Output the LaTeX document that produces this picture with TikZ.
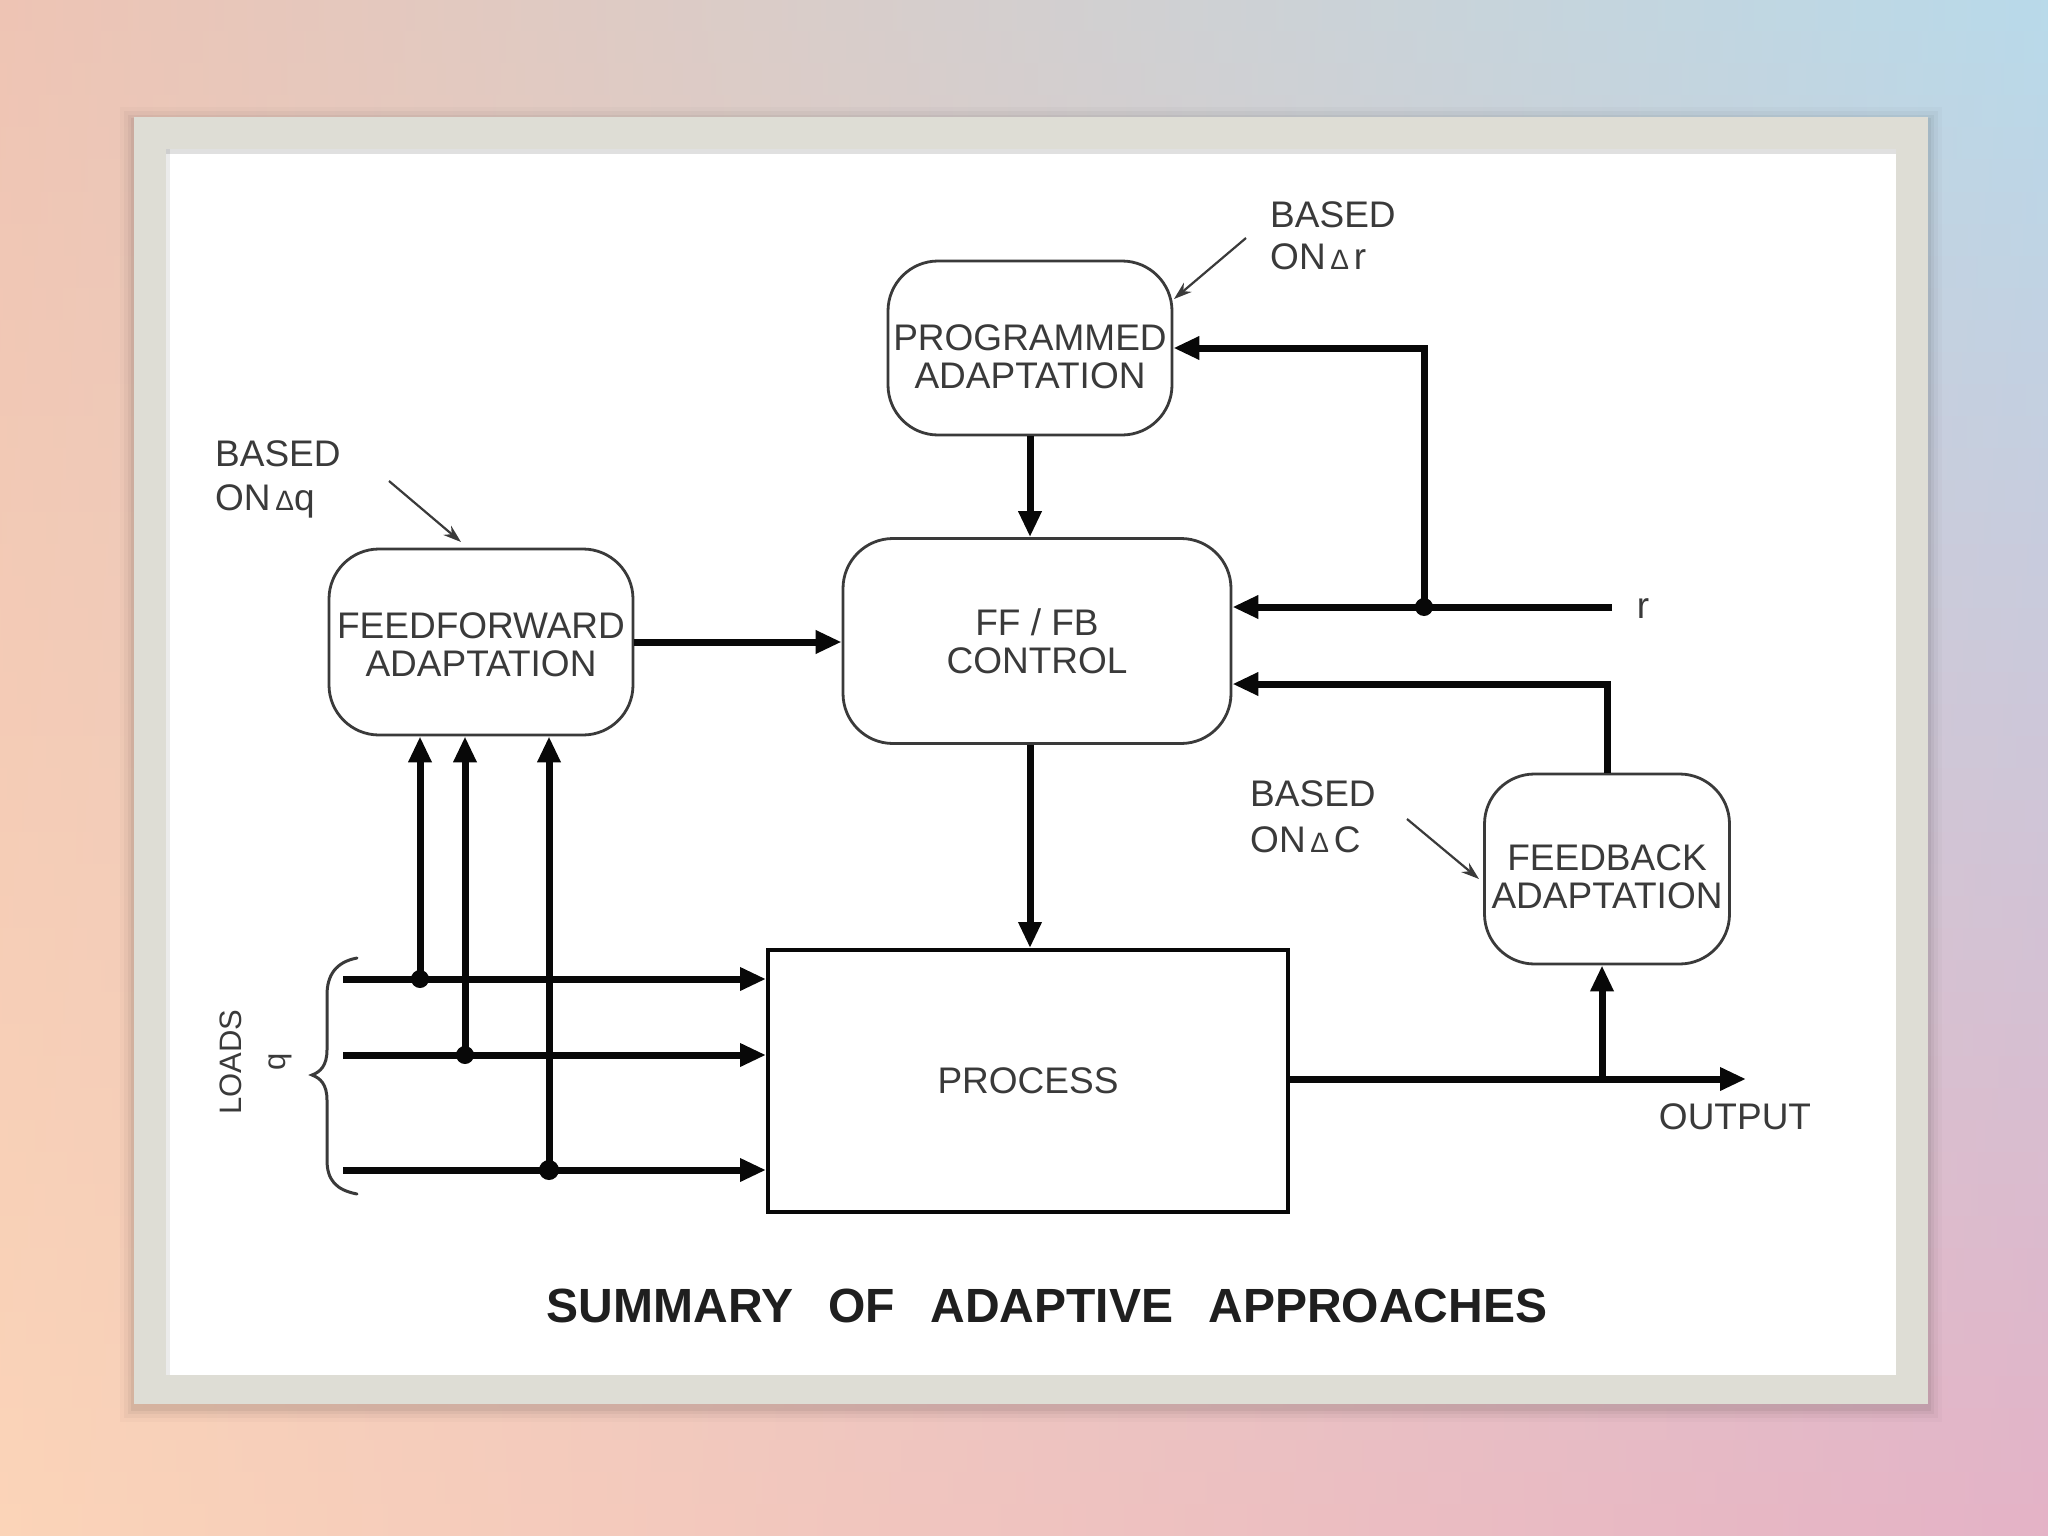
\documentclass[tikz,border=0pt]{standalone}
\usepackage{fontspec}
\setmainfont{Liberation Sans}
\usetikzlibrary{arrows.meta,calc}
\definecolor{bgTL}{HTML}{EEC4B4}
\definecolor{bgTM}{HTML}{D0C0DA}
\definecolor{bgTR}{HTML}{B8DAEA}
\definecolor{bgBL}{HTML}{FBD4B8}
\definecolor{bgBM}{HTML}{F0C0B8}
\definecolor{bgBR}{HTML}{E4B2C6}
\definecolor{frameC}{HTML}{DEDDD5}
\definecolor{ink}{HTML}{3A3A3A}
\definecolor{wire}{HTML}{080808}
\newcommand\boxfont{\fontsize{37}{38}\selectfont}
\newcommand\titlefont{\fontsize{48}{52}\selectfont\bfseries}
\begin{document}
\begin{tikzpicture}[x=1pt,y=-1pt,
  blk/.style={draw=ink, line width=2.8pt, rounded corners=50pt, inner sep=0pt, fill=white},
  btxt/.style={inner sep=0pt, align=center, text=ink, font=\boxfont},
  lab/.style={inner sep=0pt, align=left, text=ink},
  wireline/.style={line width=7pt, draw=wire},
  arr/.style={wireline, -{Triangle[length=26pt,width=22pt]}},
  thinarr/.style={line width=2.2pt, draw=ink, -{Stealth[length=18pt,width=12pt]}},
  dot/.style={fill=wire}
]
% background
\useasboundingbox (0,0) rectangle (2048,1536);
\foreach \i in {0,...,47}{
  \pgfmathsetmacro{\p}{(\i+0.5)/48*100}
  \colorlet{cl}{bgBL!\p!bgTL}
  \colorlet{cm}{bgBM!\p!bgTM}
  \colorlet{cr}{bgBR!\p!bgTR}
  \shade[left color=cl, middle color=cm, right color=cr] (0,{\i*32}) rectangle (2048,{\i*32+33});
}
% frame shadow
\foreach \d/\o in {14/0.02,10/0.03,6/0.04,3/0.05}{
  \fill[black, opacity=\o] ({134-\d},{117-\d+4}) rectangle ({1928+\d},{1404+\d+4});
}
% frame
\fill[frameC] (134,117) rectangle (1928,1404);
\fill[white] (166,149) rectangle (1896,1375);
\fill[black, opacity=0.12] (166,149) rectangle (1896,154);
\fill[black, opacity=0.08] (166,149) rectangle (170,1375);

% blocks
\node[blk, minimum width=284pt, minimum height=174pt] (prog) at (1030,348) {};
\node[blk, minimum width=388pt, minimum height=205pt] (fffb) at (1037,641) {};
\node[blk, minimum width=304pt, minimum height=186pt] (ff) at (481,642) {};
\node[blk, minimum width=245pt, minimum height=190pt] (fb) at (1607,869) {};
\node[draw=wire, line width=4pt, minimum width=520pt, minimum height=262pt, inner sep=0pt,
      text=ink, font=\boxfont] (proc) at (1028,1081) {PROCESS};
\node[btxt] (progt) at (1030,357) {PROGRAMMED\\ADAPTATION};
\node[btxt] (fffbt) at (1037,641) {FF / FB\\CONTROL};
\node[btxt] (fft) at (481,645) {FEEDFORWARD\\ADAPTATION};
\node[btxt] (fbt) at (1607,877) {FEEDBACK\\ADAPTATION};

% labels
\node[lab, anchor=west, font=\fontsize{37}{42}\selectfont] (lr) at (1270,236) {BASED\\ON{\fontsize{28}{28}\selectfont\,Δ\,}r};
\node[lab, anchor=west, font=\fontsize{37}{44}\selectfont] (lq) at (215,479) {BASED\\ON{\fontsize{28}{28}\selectfont\,Δ}q};
\node[lab, anchor=west, font=\fontsize{37}{46}\selectfont] (lc) at (1250,817) {BASED\\ON{\fontsize{28}{28}\selectfont\,Δ\,}C};
\node[lab, rotate=90, align=center, font=\fontsize{31}{44}\selectfont] (loads) at (256,1062) {LOADS\\q};
\node[lab, font=\boxfont] (rlab) at (1643,609) {r};
\node[lab, font=\boxfont] (outlab) at (1735,1117) {OUTPUT};
\node[inner sep=0pt, text=black!88, font=\titlefont] (title) at (1047,1306)
  {SUMMARY\hspace{22pt} OF\hspace{22pt} ADAPTIVE\hspace{22pt} APPROACHES};

% coordinates
\coordinate (rin) at (1612,607);
\coordinate (rj) at (1424,607);
\coordinate (l1) at (343,979);
\coordinate (l2) at (343,1055);
\coordinate (l3) at (343,1170);
\coordinate (j1) at (420,979);
\coordinate (j2) at (465,1055);
\coordinate (j3) at (549,1170);
\coordinate (out) at (1746,1079);
\coordinate (ob) at (1602,1079);
\coordinate (tr) at (1246,238);
\coordinate (hr) at (1174,299);
\coordinate (tq) at (389,481);
\coordinate (hq) at (461,542);
\coordinate (tc) at (1407,819);
\coordinate (hc) at (1479,879);

% annotation arrows
\draw[thinarr] (tr) -- (hr);
\draw[thinarr] (tq) -- (hq);
\draw[thinarr] (tc) -- (hc);

% main connectors
\draw[arr] (prog.south) -- (prog.south |- fffb.north);
\draw[arr] (ff.east) -- (ff.east -| fffb.west);
\draw[arr] (rin) -- (rin -| fffb.east);
\draw[arr] (rj) |- (prog.east);
\draw[arr] (fb.north) |- ($(fffb.east)+(0,43)$);
\draw[arr] (prog.south |- fffb.south) -- (prog.south |- proc.north);
\draw[arr] (proc.east |- out) -- (out);
\draw[arr] (ob) -- (ob |- fb.south);
\fill[dot] (rj) circle (9pt);

% loads
\draw[arr] (l1) -- (l1 -| proc.west);
\draw[arr] (l2) -- (l2 -| proc.west);
\draw[arr] (l3) -- (l3 -| proc.west);
\draw[arr] (j1) -- (j1 |- ff.south);
\draw[arr] (j2) -- (j2 |- ff.south);
\draw[arr] (j3) -- (j3 |- ff.south);
\fill[dot] (j1) circle (9pt);
\fill[dot] (j2) circle (9pt);
\fill[dot] (j3) circle (10pt);

% brace
\draw[ink, line width=3pt, line cap=round]
  (357,958) .. controls (336,962) and (327,975) .. (327,995)
  -- (327,1050) .. controls (327,1066) and (320,1072) .. (312,1075)
  .. controls (320,1078) and (327,1084) .. (327,1100)
  -- (327,1160) .. controls (327,1180) and (336,1190) .. (357,1194);
\end{tikzpicture}
\end{document}
